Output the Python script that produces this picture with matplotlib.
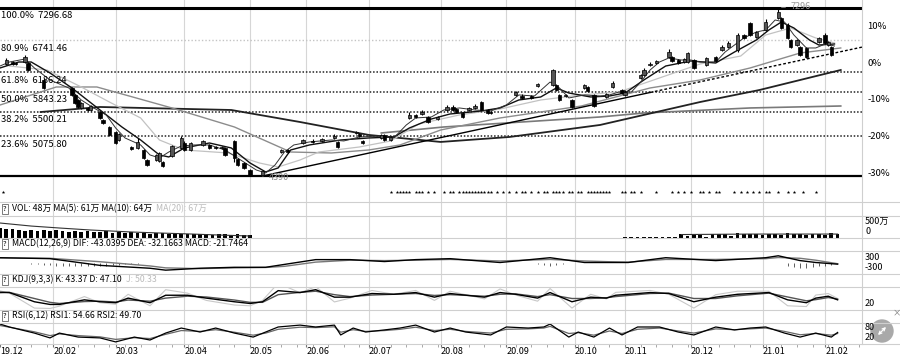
import numpy as np
import matplotlib
matplotlib.use("Agg")
import matplotlib.pyplot as plt
from matplotlib.lines import Line2D
from matplotlib.patches import Circle, FancyArrowPatch
from matplotlib.transforms import IdentityTransform
from matplotlib.ticker import MultipleLocator

plt.rcParams['font.family'] = ['Noto Sans CJK SC', 'DejaVu Sans']
plt.rcParams['axes.unicode_minus'] = False

# ---------------- data (x = trading day index) ----------------
month_pos = [0, 17, 37, 59, 80, 98, 118, 141, 162, 184, 200, 221, 244, 264]
month_lbl = ['19.12', '20.02', '20.03', '20.04', '20.05', '20.06', '20.07',
             '20.08', '20.09', '20.10', '20.11', '20.12', '21.01', '21.02']

fib_pct = ['100.0%', '80.9%', '61.8%', '50.0%', '38.2%', '23.6%']
fib_val = [7296.68, 6741.46, 6186.24, 5843.23, 5500.21, 5075.80]
fib_low = 4389.78
base_price = 6360
pct_ticks = [10, 0, -10, -20, -30]

c_idx = [2, 4, 5, 8, 9, 14, 23, 24, 25, 26, 28, 29, 32, 33, 35, 37, 38, 42, 44, 46,
         47, 50, 51, 52, 55, 58, 59, 61, 65, 67, 69, 71, 72, 75, 76, 78, 80, 84, 90, 92,
         97, 100, 103, 107, 108, 114, 115, 116, 122, 123, 125, 131, 133, 135, 137, 140, 143, 145, 146, 148,
         150, 152, 154, 156, 157, 165, 167, 170, 172, 177, 178, 179, 181, 183, 187, 188, 190, 194, 196, 199,
         200, 205, 206, 208, 210, 214, 215, 217, 219, 220, 222, 226, 229, 231, 233, 236, 238, 240, 242, 245,
         249, 250, 252, 253, 255, 256, 258, 262, 264, 265, 266]
c_open = [6328, 6362, 6345, 6362, 6345, 6051, 5913, 5792, 5705, 5567, 5567, 5532, 5498, 5359, 5238, 5151, 5013, 4892, 4875, 4840,
          4667, 4667, 4650, 4632, 4736, 4875, 4961, 4840, 4927, 4927, 4892, 4875, 4875, 4996, 4685, 4615, 4494, 4400, 4805, 4840,
          4961, 4996, 4996, 5048, 4979, 5134, 5117, 4996, 5048, 5100, 5013, 5394, 5446, 5463, 5411, 5376, 5532, 5584, 5549, 5480,
          5532, 5567, 5670, 5532, 5498, 5792, 5774, 5774, 5948, 5965, 5965, 5792, 5774, 5705, 5913, 5930, 5792, 5757, 5930, 5878,
          5792, 6086, 6137, 6310, 6345, 6449, 6449, 6397, 6362, 6362, 6397, 6310, 6449, 6570, 6622, 6570, 6830, 7037, 6795, 6916,
          7124, 7124, 7003, 6743, 6656, 6622, 6605, 6708, 6830, 6656, 6622]
c_high = [6432, 6380, 6362, 6483, 6360, 6086, 5930, 5810, 5720, 5670, 5590, 5620, 5520, 5370, 5255, 5170, 5140, 4910, 5048, 4860,
          4690, 4770, 4805, 4650, 4930, 5083, 4990, 4980, 5020, 4940, 4905, 4910, 4890, 5013, 4700, 4630, 4510, 4494, 4860, 4860,
          5030, 5030, 5050, 5110, 5000, 5170, 5140, 5013, 5120, 5117, 5083, 5500, 5460, 5532, 5430, 5430, 5610, 5620, 5560, 5490,
          5580, 5630, 5690, 5550, 5520, 5860, 5800, 5790, 6000, 6241, 5990, 5810, 5810, 5720, 5990, 5950, 5810, 5830, 6030, 5900,
          5870, 6160, 6250, 6360, 6400, 6587, 6470, 6420, 6430, 6535, 6414, 6450, 6470, 6650, 6720, 6864, 6850, 7060, 6900, 7100,
          7297, 7140, 7030, 6760, 6760, 6640, 6620, 6800, 6870, 6720, 6640]
c_low = [6310, 6310, 6310, 6345, 6200, 5895, 5770, 5640, 5570, 5550, 5510, 5510, 5380, 5290, 5080, 4940, 5000, 4840, 4860, 4690,
         4560, 4650, 4630, 4545, 4720, 4860, 4820, 4820, 4910, 4860, 4860, 4860, 4740, 4632, 4560, 4510, 4400, 4390, 4790, 4790,
         4950, 4960, 4980, 5030, 4880, 5120, 5070, 4950, 5030, 5000, 5000, 5380, 5390, 5450, 5310, 5360, 5520, 5520, 5480, 5390,
         5520, 5550, 5520, 5470, 5460, 5780, 5730, 5720, 5930, 5950, 5860, 5690, 5760, 5570, 5900, 5850, 5590, 5740, 5910, 5810,
         5780, 6070, 6120, 6300, 6330, 6430, 6370, 6330, 6350, 6345, 6241, 6290, 6370, 6550, 6610, 6540, 6760, 6810, 6780, 6900,
         7100, 6930, 6760, 6600, 6640, 6470, 6430, 6690, 6680, 6640, 6470]
c_close = [6397, 6328, 6328, 6449, 6224, 5913, 5792, 5653, 5584, 5653, 5532, 5601, 5394, 5307, 5100, 4961, 5117, 4857, 4979, 4702,
           4581, 4754, 4789, 4563, 4910, 5048, 4840, 4961, 4996, 4875, 4875, 4892, 4754, 4702, 4581, 4529, 4408, 4477, 4840, 4805,
           5013, 4979, 5030, 5083, 4892, 5151, 5083, 4961, 5100, 5013, 5065, 5446, 5411, 5498, 5324, 5411, 5584, 5532, 5498, 5411,
           5567, 5601, 5532, 5480, 5480, 5843, 5740, 5740, 5982, 6224, 5878, 5705, 5792, 5584, 5965, 5861, 5601, 5809, 5999, 5826,
           5843, 6137, 6224, 6328, 6380, 6535, 6380, 6345, 6414, 6518, 6258, 6432, 6380, 6622, 6691, 6830, 6778, 6830, 6881, 7055,
           7227, 6951, 6778, 6622, 6743, 6483, 6449, 6778, 6691, 6708, 6483]

ma5_idx = [0, 3, 8, 11, 16, 22, 26, 30, 34, 37, 40, 45, 48, 51, 54, 58, 62, 67, 72, 77,
           82, 85, 88, 91, 94, 99, 106, 110, 115, 122, 126, 130, 133, 138, 142, 147, 152, 157, 162, 166,
           171, 176, 179, 182, 187, 192, 195, 198, 202, 205, 208, 211, 214, 218, 221, 224, 229, 232, 235, 238,
           242, 245, 248, 251, 254, 258, 261, 264, 267]
ma5 = [6293, 6362, 6414, 6259, 6051, 5913, 5705, 5567, 5446, 5221, 5048, 4927, 4754, 4702, 4805, 4909, 4927, 4927, 4840, 4667,
       4494, 4442, 4581, 4805, 4927, 4979, 5013, 4996, 5065, 5082, 5048, 5273, 5394, 5411, 5532, 5567, 5532, 5515, 5618, 5792,
       5774, 6016, 5913, 5740, 5792, 5774, 5792, 5843, 5843, 6016, 6224, 6362, 6432, 6397, 6397, 6362, 6362, 6535, 6656, 6778,
       6881, 6916, 7089, 7054, 6830, 6605, 6605, 6674, 6639]

ma10_idx = [0, 6, 10, 16, 23, 32, 39, 45, 51, 54, 59, 67, 74, 80, 85, 89, 93, 99, 109, 118,
            126, 131, 138, 144, 154, 160, 166, 173, 178, 182, 189, 195, 200, 206, 213, 221, 229, 235, 242, 246,
            250, 254, 259, 262, 267]
ma10 = [6259, 6362, 6362, 6172, 5913, 5532, 5238, 5013, 4754, 4719, 4875, 4961, 4875, 4615, 4460, 4529, 4840, 4927, 5013, 5048,
        5065, 5221, 5376, 5463, 5515, 5567, 5705, 5757, 5913, 5826, 5757, 5774, 5826, 6051, 6293, 6380, 6345, 6535, 6743, 6916,
        7054, 6951, 6743, 6656, 6674]

ma20_idx = [3, 15, 26, 35, 45, 51, 59, 73, 83, 89, 96, 102, 115, 125, 134, 147, 160, 173, 186, 198,
            211, 224, 237, 245, 253, 261, 267]
ma20 = [6293, 6224, 5930, 5670, 5394, 5013, 4840, 4788, 4615, 4546, 4667, 4805, 4892, 4996, 5290, 5446, 5549, 5705, 5792, 5843,
        6086, 6328, 6466, 6830, 6951, 6778, 6691]

ma60_idx = [0, 18, 31, 55, 75, 93, 106, 118, 128, 141, 160, 186, 208, 224, 240, 256, 269]
ma60 = [5618, 5930, 5930, 5567, 5238, 4805, 4788, 4840, 4927, 5186, 5394, 5601, 5913, 6051, 6259, 6518, 6605]

ma120_idx = [13, 32, 74, 96, 118, 141, 163, 192, 224, 243, 269]
ma120 = [5497, 5584, 5532, 5324, 5100, 4979, 5065, 5273, 5670, 5878, 6224]

ma250_idx = [122, 142, 192, 206, 240, 269]
ma250 = [5134, 5238, 5411, 5480, 5567, 5601]

trend_idx = [84, 208, 276]
trend_val = [4390, 5835, 6622]

star_idx = [1, 125, 127, 128, 129, 130, 131, 133, 134, 135, 137, 139, 142, 144, 145, 147, 148, 149, 150, 151,
            152, 153, 154, 155, 156, 157, 159, 161, 163, 165, 167, 168, 170, 172, 174, 175, 177, 178, 179, 180,
            182, 183, 185, 186, 188, 189, 190, 191, 192, 193, 194, 195, 199, 200, 202, 203, 205, 210, 215, 217,
            219, 221, 224, 225, 227, 229, 230, 235, 237, 239, 241, 243, 245, 246, 249, 252, 254, 257, 261]

vol_idx = list(range(0, 81, 2)) + list(range(200, 269, 2))
vol = [310, 280, 300, 260, 230, 250, 220, 240, 210, 260, 230, 200, 220, 180, 210, 190, 200, 230, 170, 190,
       160, 180, 150, 170, 140, 160, 150, 130, 150, 120, 140, 130, 120, 140, 110, 130, 120, 100, 120, 110, 100,
       30, 35, 30, 30, 40, 35, 30, 40, 35, 120, 60, 130, 100, 40, 140, 120, 130, 60, 150, 130,
       140, 120, 100, 130, 140, 110, 150, 120, 130, 100, 140, 120, 110, 150, 130]
vol_ma_l_idx = [0, 10, 19, 29, 42, 51, 61, 70, 80]
vol_ma_l = [477, 380, 318, 254, 191, 159, 127, 95, 64]
vol_ma_r_idx = [218, 240, 268]
vol_ma_r = [110, 125, 125]

macd_idx = [0, 16, 32, 48, 53, 64, 75, 85, 91, 101, 112, 123, 133, 144, 160, 176, 187, 195, 201, 213,
            229, 245, 249, 256, 261, 268]
dif = [125, 100, -75, -150, -200, -150, -125, -125, -50, 75, 75, 25, 75, 100, 0, 125, 0, 0, 0, 125,
       50, 125, 175, 50, 0, -43]
dea = [120, 110, 20, -90, -140, -160, -140, -130, -100, 10, 60, 50, 60, 80, 40, 80, 40, 20, 10, 80,
       80, 100, 130, 110, 60, -32]
hist_idx = [10, 12, 14, 16, 18, 20, 22, 24, 26, 28, 30, 32, 34, 36, 38, 40, 42, 44, 46, 48, 50,
            74, 76, 78, 80, 82, 84, 86,
            106, 108, 110, 112, 114, 116, 118, 120, 122, 124, 126, 128,
            154, 156, 158, 160, 172, 174, 176, 178, 180, 188, 190, 192,
            226, 228, 230, 232, 234, 236, 238, 240, 242, 244,
            252, 254, 256, 258, 260, 262, 264, 266]
hist = [-40, -50, -60, -70, -80, -90, -90, -100, -100, -90, -90, -80, -80, -70, -60, -50, -40, -30, -20, -10, -10,
        -10, -10, -10, -10, -10, -10, -10,
        -10, -15, -20, -20, -15, -10, -10, -15, -20, -15, -10, -10,
        -10, -15, -10, -10, -40, -60, -80, -60, -40, -10, -10, -10,
        -10, -10, -15, -15, -10, -10, -15, -10, -10, -10,
        -80, -110, -150, -140, -120, -100, -80, -60]

kdj_idx = [0, 3, 11, 16, 19, 27, 32, 37, 41, 48, 53, 60, 66, 75, 80, 84, 89, 96, 101, 107,
           112, 119, 126, 133, 139, 144, 155, 160, 165, 172, 176, 183, 189, 194, 197, 208, 214, 222, 229, 236,
           246, 252, 258, 261, 265, 268]
kdj_k = [83, 81, 33, 19, 19, 43, 33, 28, 52, 28, 67, 67, 52, 33, 24, 33, 91, 81, 96, 57,
         57, 76, 72, 81, 57, 76, 57, 81, 72, 52, 81, 33, 57, 52, 67, 81, 76, 33, 57, 72,
         81, 43, 28, 52, 62, 43]
kdj_d = [80, 82, 50, 30, 24, 34, 36, 32, 42, 36, 52, 62, 58, 42, 30, 30, 70, 82, 88, 70,
         60, 68, 72, 76, 66, 70, 62, 72, 74, 60, 70, 50, 50, 54, 60, 76, 78, 50, 50, 64,
         78, 58, 38, 44, 55, 47]
kdj_j = [90, 78, 0, -2, 10, 60, 28, 20, 72, 12, 96, 78, 40, 16, 12, 40, 130, 80, 112, 32,
         52, 92, 72, 92, 40, 88, 48, 100, 68, 36, 102, 0, 72, 48, 82, 92, 72, 0, 70, 88,
         88, 12, 8, 68, 76, 50]

rsi_idx = [0, 3, 11, 16, 19, 25, 32, 37, 43, 48, 53, 58, 64, 69, 75, 81, 85, 89, 96, 101,
           107, 109, 113, 117, 123, 128, 133, 139, 144, 149, 157, 162, 169, 174, 176, 182, 185, 190, 195, 199,
           204, 211, 217, 222, 229, 235, 240, 245, 251, 256, 261, 266, 268]
rsi1 = [95, 81, 52, 29, 52, 33, 29, 10, 33, 19, 52, 76, 57, 76, 52, 33, 57, 81, 90, 81,
        90, 43, 76, 57, 67, 76, 90, 57, 76, 57, 43, 81, 76, 81, 95, 33, 57, 33, 76, 43,
        81, 81, 57, 43, 81, 67, 76, 81, 52, 33, 52, 33, 55]
rsi2 = [88, 80, 58, 40, 48, 40, 34, 22, 30, 26, 46, 64, 60, 68, 56, 42, 52, 70, 80, 78,
        82, 56, 68, 60, 64, 70, 80, 64, 70, 60, 52, 70, 72, 76, 84, 50, 54, 42, 62, 50,
        70, 76, 62, 52, 72, 68, 72, 76, 60, 44, 50, 42, 50]

# ---------------- layout helpers ----------------
W, H = 900, 358
XMAX = 275.8


def box(x0, y0, x1, y1):
    return [x0 / W, 1 - y1 / H, (x1 - x0) / W, (y1 - y0) / H]


def ftext(x, y, s, **kw):
    kw.setdefault('fontsize', 6.3)
    kw.setdefault('va', 'center')
    return fig.text(x / W, 1 - y / H, s, **kw)


def bare(a, ylim):
    a.patch.set_alpha(0)
    a.set_xlim(0, XMAX)
    a.set_ylim(*ylim)
    for s in a.spines.values():
        s.set_visible(False)
    a.set_xticks([])
    a.set_yticks([])


fig = plt.figure(figsize=(9, 3.58), dpi=100)

# background month grid through all panels
bg = fig.add_axes(box(0, 0, 862, 344))
bare(bg, (0, 1))
for m in month_pos[1:]:
    bg.axvline(m, color='#d6d6d6', lw=0.8)

for y in [202, 216, 238, 251, 274, 287, 310, 323, 344]:
    fig.add_artist(Line2D([0, 1], [1 - y / H] * 2, color='#cfcfcf', lw=0.8))
fig.add_artist(Line2D([862 / W] * 2, [1 - 344 / H, 1], color='#cfcfcf', lw=0.8))

# ---------------- main price panel ----------------
ax = fig.add_axes(box(0, 0, 862, 202))
bare(ax, (3940, 7435))

ax.axhline(fib_val[0], color='black', lw=2.2)
ax.axhline(fib_val[1], color='#c4c4c4', lw=1.0, ls=(0, (1, 1.5)))
for v in fib_val[2:]:
    ax.axhline(v, color='#222222', lw=1.1, ls=(0, (1, 1.2)))
ax.axhline(fib_low, color='black', lw=1.6)
for p, v in zip(fib_pct, fib_val):
    ax.annotate(f'{p}  {v:.2f}', xy=(0, v), xytext=(1, -2.5), textcoords='offset points',
                va='top', ha='left', fontsize=6.8)

ax.plot(ma250_idx, ma250, color='#7a7a7a', lw=1.2)
ax.plot(ma120_idx, ma120, color='#222222', lw=1.3)
ax.plot(ma60_idx, ma60, color='#8c8c8c', lw=1.0)
ax.plot(ma20_idx, ma20, color='#c2c2c2', lw=0.9)
ax.plot(ma10_idx, ma10, color='#111111', lw=1.0)
ax.plot(ma5_idx, ma5, color='#333333', lw=0.7)
ax.plot(trend_idx[:2], trend_val[:2], color='black', lw=1.0)
ax.plot(trend_idx[1:], trend_val[1:], color='black', lw=1.0, ls=(0, (2, 1.5)))

o = np.array(c_open, float)
c = np.array(c_close, float)
up = c >= o
ax.vlines(c_idx, c_low, c_high, color='black', lw=0.8, zorder=3)
ax.bar(c_idx, np.maximum(np.abs(c - o), 15), bottom=np.minimum(o, c), width=1.1,
       color=np.where(up, '#555555', 'black'), edgecolor='black', lw=0.5, zorder=4)

ax.annotate('7296', xy=(249, 7297), xytext=(253, 7320), color='#999999', fontsize=6.5, va='center',
            arrowprops=dict(arrowstyle='-', color='#888888', lw=0.6,
                            connectionstyle='angle,angleA=0,angleB=90,rad=0'))
ax.annotate('4390', xy=(84, 4390), xytext=(86, 4372), color='#888888', fontsize=6.5, va='center',
            arrowprops=dict(arrowstyle='-', color='#888888', lw=0.6))

ax.scatter(star_idx, [0.05] * len(star_idx), transform=ax.get_xaxis_transform(),
           marker='*', s=7, color='black', lw=0)

ax2 = ax.twinx()
ax2.set_ylim((3940 / base_price - 1) * 100, (7435 / base_price - 1) * 100)
ax2.set_yticks(pct_ticks)
ax2.set_yticklabels([f'{t}%' for t in pct_ticks], fontsize=6.8)
ax2.tick_params(length=0, pad=4)
for s in ax2.spines.values():
    s.set_visible(False)

# ---------------- VOL ----------------
av = fig.add_axes(box(0, 216, 862, 238))
bare(av, (0, 700))
av.bar(vol_idx, vol, width=1.2, color='black', lw=0)
av.plot(vol_ma_l_idx, vol_ma_l, color='#333333', lw=0.8)
av.plot(vol_ma_r_idx, vol_ma_r, color='#333333', lw=0.8)

# ---------------- MACD ----------------
am = fig.add_axes(box(0, 251, 862, 274))
bare(am, (-300, 300))
am.vlines(hist_idx, 0, hist, color='#444444', lw=0.6)
am.plot(macd_idx, dea, color='#777777', lw=1.0)
am.plot(macd_idx, dif, color='black', lw=1.0)

# ---------------- KDJ ----------------
ak = fig.add_axes(box(0, 287, 862, 310))
bare(ak, (-10, 110))
ak.plot(kdj_idx, kdj_j, color='#c8c8c8', lw=0.8)
ak.plot(kdj_idx, kdj_d, color='#555555', lw=1.0)
ak.plot(kdj_idx, kdj_k, color='black', lw=1.0)

# ---------------- RSI ----------------
ar = fig.add_axes(box(0, 323, 862, 344))
bare(ar, (0, 100))
ar.plot(rsi_idx, rsi2, color='#666666', lw=0.9)
ar.plot(rsi_idx, rsi1, color='black', lw=0.9)
ar.set_xticks(month_pos)
ar.set_xticklabels(month_lbl, ha='left', fontsize=6.5)
ar.xaxis.set_minor_locator(MultipleLocator(5))
ar.tick_params(axis='x', which='major', length=2, pad=0.5, color='#777777')
ar.tick_params(axis='x', which='minor', length=2, color='#999999')

# ---------------- panel captions ----------------
qbox = dict(boxstyle='square,pad=0.15', fc='white', ec='#666666', lw=0.6)
for yy in [209, 244, 280, 316]:
    ftext(5, yy, '?', fontsize=5.5, ha='center', bbox=qbox)
t_vol = ftext(12, 209, 'VOL: 48万 MA(5): 61万 MA(10): 64万')
ftext(12, 244, 'MACD(12,26,9) DIF: -43.0395 DEA: -32.1663 MACD: -21.7464')
t_kdj = ftext(12, 280, 'KDJ(9,3,3) K: 43.37 D: 47.10')
ftext(12, 316, 'RSI(6,12) RSI1: 54.66 RSI2: 49.70')

fig.canvas.draw()
rend = fig.canvas.get_renderer()
for t, extra, yy in [(t_vol, 'MA(20): 67万', 209), (t_kdj, 'J: 50.33', 280)]:
    x_end = t.get_window_extent(rend).x1
    ftext(x_end + 4, yy, extra, color='#bbbbbb')

for x, y, s in [(865, 221, '500万'), (865, 231, '0'), (865, 257, '300'), (865, 268, '-300'),
                (865, 303, '20'), (865, 328, '80'), (865, 338, '20')]:
    ftext(x, y, s, fontsize=6.5)

ftext(897, 313, '×', color='#777777', fontsize=6, ha='center')
fig.add_artist(Circle((882, H - 331), 11, color='#a9a9a9', transform=IdentityTransform()))
fig.add_artist(FancyArrowPatch((876, H - 337), (888, H - 325), arrowstyle='<->', mutation_scale=5,
                               color='white', lw=0.9, transform=IdentityTransform()))

fig.savefig('out.png', dpi=100)
